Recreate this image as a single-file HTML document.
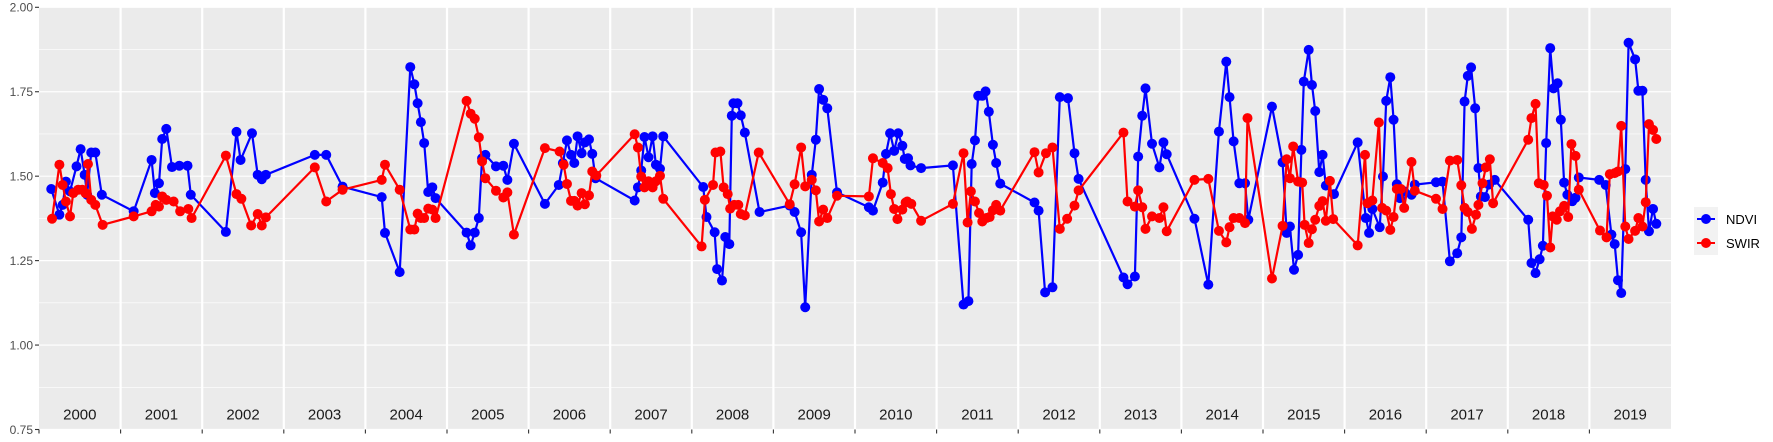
<!DOCTYPE html>
<html><head><meta charset="utf-8"><style>
html,body{margin:0;padding:0;background:#fff;}
svg{display:block;font-family:"Liberation Sans",sans-serif;}
</style></head><body>
<svg id="chart" width="1773" height="442" viewBox="0 0 1773 442" xmlns="http://www.w3.org/2000/svg">
<rect x="39" y="7" width="1632" height="422" fill="#ebebeb"/>
<g id="grid"></g>
<g id="yaxis"></g>
<g id="xaxis"></g>
<g id="series"></g>
<g>
<rect x="1694" y="207" width="24" height="48" fill="#f2f2f2"/>
<g>
<line x1="1697" y1="219" x2="1715" y2="219" stroke="#0000ff" stroke-width="2"/>
<circle cx="1706" cy="219" r="5" fill="#0000ff"/>
<text x="1726" y="224" font-size="13" fill="#000">NDVI</text></g>
<g>
<line x1="1697" y1="243" x2="1715" y2="243" stroke="#ff0000" stroke-width="2"/>
<circle cx="1706" cy="243" r="5" fill="#ff0000"/>
<text x="1726" y="248" font-size="13" fill="#000">SWIR</text></g>
</g>
</svg>
<script>
const yTicks = [0.75, 1.00, 1.25, 1.50, 1.75, 2.00];
const yTickLabels = ["0.75", "1.00", "1.25", "1.50", "1.75", "2.00"];
const years = [2000,2001,2002,2003,2004,2005,2006,2007,2008,2009,2010,2011,2012,2013,2014,2015,2016,2017,2018,2019];
const ndviX = [
2000.15,2000.25,2000.29,2000.33,2000.38,2000.46,2000.51,2000.56,2000.59,2000.64,2000.69,2000.77,
2001.16,2001.38,2001.42,2001.47,2001.51,2001.56,2001.63,2001.72,2001.82,2001.86,
2002.29,2002.42,2002.47,2002.61,2002.68,2002.73,2002.78,
2003.38,2003.52,2003.72,
2004.20,2004.24,2004.42,2004.55,2004.60,2004.64,2004.68,2004.72,2004.77,2004.82,2004.86,
2005.24,2005.29,2005.34,2005.39,2005.43,2005.47,2005.60,2005.69,2005.74,2005.82,
2006.20,2006.37,2006.42,2006.47,2006.52,2006.56,2006.60,2006.65,2006.69,2006.74,2006.78,2006.82,
2007.30,2007.34,2007.38,2007.42,2007.47,2007.52,2007.56,2007.61,2007.65,
2008.14,2008.18,2008.28,2008.31,2008.37,2008.41,2008.46,2008.49,2008.51,2008.56,2008.60,2008.65,2008.83,
2009.20,2009.26,2009.34,2009.39,2009.47,2009.52,2009.56,2009.61,2009.66,2009.78,
2010.17,2010.22,2010.34,2010.38,2010.43,2010.48,2010.53,2010.58,2010.61,2010.65,2010.68,2010.81,
2011.20,2011.33,2011.39,2011.43,2011.47,2011.51,2011.56,2011.60,2011.64,2011.69,2011.73,2011.78,
2012.20,2012.25,2012.33,2012.42,2012.51,2012.61,2012.69,2012.74,
2013.29,2013.34,2013.43,2013.47,2013.52,2013.56,2013.64,2013.73,2013.78,2013.82,
2014.16,2014.33,2014.46,2014.55,2014.59,2014.64,2014.71,2014.78,2014.82,
2015.11,2015.24,2015.29,2015.33,2015.38,2015.43,2015.47,2015.50,2015.56,2015.60,2015.64,2015.69,2015.73,2015.77,2015.87,
2016.16,2016.26,2016.30,2016.34,2016.43,2016.47,2016.51,2016.56,2016.60,2016.64,2016.68,2016.73,2016.82,2016.86,
2017.12,2017.20,2017.29,2017.38,2017.43,2017.47,2017.51,2017.55,2017.60,2017.64,2017.67,2017.72,2017.77,2017.84,
2018.25,2018.29,2018.34,2018.39,2018.43,2018.47,2018.52,2018.56,2018.61,2018.65,2018.69,2018.73,2018.79,2018.83,2018.87,
2019.12,2019.20,2019.27,2019.31,2019.35,2019.39,2019.44,2019.48,2019.56,2019.60,2019.65,2019.69,2019.73,2019.78,2019.82];
const ndviY = [
1.462,1.386,1.415,1.484,1.455,1.529,1.580,1.504,1.445,1.570,1.570,1.445,
1.396,1.548,1.450,1.479,1.610,1.640,1.527,1.531,1.531,1.445,
1.335,1.631,1.548,1.627,1.504,1.491,1.504,
1.563,1.563,1.469,
1.438,1.332,1.216,1.823,1.772,1.716,1.660,1.598,1.453,1.467,1.435,
1.333,1.295,1.333,1.376,1.553,1.563,1.529,1.531,1.489,1.596,
1.418,1.474,1.539,1.606,1.563,1.539,1.618,1.568,1.600,1.609,1.566,1.494,
1.428,1.467,1.517,1.616,1.556,1.618,1.534,1.522,1.618,
1.468,1.379,1.334,1.225,1.191,1.320,1.299,1.679,1.716,1.716,1.680,1.629,1.394,
1.413,1.394,1.334,1.112,1.504,1.608,1.758,1.726,1.701,1.452,
1.408,1.398,1.481,1.566,1.627,1.575,1.627,1.590,1.551,1.553,1.532,1.524,
1.532,1.120,1.130,1.536,1.606,1.738,1.738,1.751,1.691,1.593,1.539,1.478,
1.422,1.398,1.156,1.171,1.734,1.731,1.568,1.492,
1.200,1.180,1.203,1.558,1.679,1.760,1.596,1.526,1.600,1.565,
1.374,1.179,1.632,1.839,1.734,1.603,1.479,1.479,1.371,
1.706,1.541,1.332,1.351,1.223,1.267,1.578,1.780,1.874,1.770,1.693,1.512,1.563,1.472,1.447,
1.600,1.376,1.332,1.403,1.349,1.499,1.723,1.793,1.667,1.476,1.435,1.455,1.445,1.475,
1.482,1.484,1.248,1.272,1.319,1.721,1.797,1.822,1.701,1.524,1.440,1.438,1.475,1.489,
1.371,1.243,1.213,1.254,1.294,1.598,1.879,1.760,1.775,1.667,1.481,1.445,1.426,1.436,1.496,
1.489,1.474,1.327,1.299,1.192,1.154,1.521,1.895,1.846,1.753,1.753,1.489,1.337,1.403,1.359];
const swirX = [
2000.16,2000.25,2000.29,2000.33,2000.38,2000.42,2000.48,2000.53,2000.57,2000.60,2000.64,2000.69,2000.78,
2001.16,2001.38,2001.43,2001.47,2001.51,2001.56,2001.65,2001.73,2001.83,2001.87,
2002.29,2002.42,2002.48,2002.60,2002.68,2002.73,2002.78,
2003.38,2003.52,2003.72,
2004.20,2004.24,2004.42,2004.55,2004.60,2004.64,2004.68,2004.72,2004.77,2004.82,2004.86,
2005.24,2005.29,2005.34,2005.39,2005.43,2005.47,2005.60,2005.69,2005.74,2005.82,
2006.20,2006.38,2006.43,2006.47,2006.52,2006.56,2006.60,2006.65,2006.69,2006.74,2006.78,2006.83,
2007.30,2007.34,2007.38,2007.42,2007.47,2007.52,2007.56,2007.61,2007.65,
2008.12,2008.16,2008.26,2008.29,2008.35,2008.39,2008.44,2008.47,2008.52,2008.57,2008.60,2008.65,2008.82,
2009.20,2009.26,2009.34,2009.39,2009.47,2009.52,2009.56,2009.61,2009.66,2009.78,
2010.17,2010.22,2010.34,2010.40,2010.44,2010.48,2010.52,2010.58,2010.62,2010.64,2010.69,2010.81,
2011.20,2011.33,2011.38,2011.42,2011.47,2011.52,2011.56,2011.61,2011.65,2011.69,2011.73,2011.78,
2012.20,2012.25,2012.34,2012.42,2012.51,2012.60,2012.69,2012.74,
2013.29,2013.34,2013.43,2013.47,2013.52,2013.56,2013.64,2013.73,2013.78,2013.82,
2014.16,2014.33,2014.46,2014.55,2014.59,2014.64,2014.71,2014.78,2014.81,
2015.11,2015.24,2015.29,2015.33,2015.37,2015.43,2015.48,2015.51,2015.56,2015.60,2015.64,2015.69,2015.73,2015.77,2015.82,2015.86,
2016.16,2016.25,2016.28,2016.34,2016.42,2016.46,2016.51,2016.56,2016.60,2016.64,2016.69,2016.73,2016.82,2016.86,
2017.12,2017.20,2017.29,2017.38,2017.43,2017.47,2017.51,2017.56,2017.61,2017.64,2017.69,2017.73,2017.78,2017.82,
2018.25,2018.29,2018.34,2018.38,2018.44,2018.48,2018.52,2018.55,2018.60,2018.64,2018.69,2018.74,2018.78,2018.83,2018.87,
2019.13,2019.21,2019.25,2019.31,2019.35,2019.39,2019.44,2019.48,2019.56,2019.60,2019.65,2019.69,2019.73,2019.78,2019.82];
const swirY = [
1.374,1.534,1.474,1.425,1.381,1.450,1.460,1.460,1.450,1.536,1.430,1.415,1.356,
1.381,1.396,1.415,1.410,1.440,1.430,1.425,1.396,1.403,1.376,
1.561,1.447,1.433,1.354,1.388,1.354,1.378,
1.526,1.425,1.460,
1.489,1.534,1.460,1.342,1.342,1.389,1.376,1.376,1.404,1.401,1.376,
1.723,1.685,1.670,1.615,1.544,1.494,1.457,1.437,1.452,1.327,
1.583,1.573,1.534,1.477,1.427,1.427,1.413,1.450,1.417,1.443,1.514,1.502,
1.624,1.585,1.499,1.467,1.485,1.467,1.485,1.501,1.433,
1.292,1.430,1.474,1.570,1.573,1.467,1.447,1.404,1.415,1.415,1.388,1.384,1.570,
1.417,1.476,1.585,1.470,1.489,1.458,1.366,1.401,1.376,1.442,
1.440,1.553,1.539,1.524,1.447,1.403,1.373,1.401,1.422,1.425,1.418,1.368,
1.418,1.568,1.363,1.455,1.425,1.391,1.366,1.376,1.379,1.399,1.415,1.398,
1.571,1.511,1.568,1.585,1.344,1.374,1.413,1.458,
1.629,1.425,1.410,1.458,1.408,1.344,1.381,1.376,1.408,1.337,
1.489,1.492,1.338,1.304,1.349,1.376,1.376,1.361,1.672,
1.197,1.353,1.550,1.494,1.588,1.484,1.481,1.356,1.302,1.343,1.371,1.412,1.426,1.368,1.486,1.373,
1.295,1.563,1.420,1.428,1.659,1.406,1.398,1.341,1.379,1.462,1.462,1.406,1.542,1.457,
1.433,1.403,1.546,1.548,1.473,1.406,1.394,1.344,1.386,1.415,1.479,1.526,1.550,1.420,
1.608,1.672,1.714,1.479,1.474,1.442,1.289,1.381,1.371,1.396,1.412,1.379,1.595,1.560,1.460,
1.339,1.319,1.506,1.509,1.514,1.649,1.351,1.314,1.338,1.376,1.351,1.423,1.654,1.637,1.610];

const NS = "http://www.w3.org/2000/svg";
const L = 39, R = 1671, T = 7.3, B = 429.5;
const xMin = 2000, xMax = 2020, yMin = 0.75, yMax = 2.0;
function sx(v){ return L + (v - xMin) / (xMax - xMin) * (R - L); }
function sy(v){ return B - (v - yMin) / (yMax - yMin) * (B - T); }
function mk(tag, attrs, parent){
  const e = document.createElementNS(NS, tag);
  for (const k in attrs) e.setAttribute(k, attrs[k]);
  parent.appendChild(e);
  return e;
}
const grid = document.getElementById("grid");
const yaxis = document.getElementById("yaxis");
const xaxis = document.getElementById("xaxis");
const series = document.getElementById("series");
// minor gridlines
for (let i = 0; i < yTicks.length - 1; i++) {
  const m = (yTicks[i] + yTicks[i+1]) / 2;
  const g = mk("line", {x1:L, x2:R, y1:sy(m), y2:sy(m), stroke:"#fff", "stroke-width":0.6}, grid);
  
  
}
yTicks.forEach((t, i) => {
  const g = mk("line", {x1:L, x2:R, y1:sy(t), y2:sy(t), stroke:"#fff", "stroke-width":1.2}, grid);
  
  
  const tk = mk("line", {x1:L-4, x2:L, y1:sy(t), y2:sy(t), stroke:"#333", "stroke-width":1.1}, yaxis);
  
  
  const tx = mk("text", {x:L-6, y:sy(t)+4.3, "text-anchor":"end", "font-size":12, fill:"#4d4d4d"}, yaxis);
  
  
  tx.textContent = yTickLabels[i];
});
years.forEach((yr, i) => {
  if (i > 0) {
    const v = mk("line", {x1:sx(yr), x2:sx(yr), y1:T, y2:B, stroke:"#fff", "stroke-width":2.2}, grid);
    
    
  }
  const tk = mk("line", {x1:sx(yr), x2:sx(yr), y1:B, y2:B+4, stroke:"#333", "stroke-width":1.1}, xaxis);
  
  
  const lb = mk("text", {x:sx(yr + 0.5), y:419.5, "text-anchor":"middle", "font-size":15, fill:"#1a1a1a"}, xaxis);
  
  
  lb.textContent = String(yr);
});
function drawSeries(xs, ys, color, name){
  const g = mk("g", {}, series);
  
  
  const pts = xs.map((x, i) => sx(x).toFixed(1) + "," + sy(ys[i]).toFixed(1)).join(" ");
  const pl = mk("polyline", {points:pts, fill:"none", stroke:color, "stroke-width":2.2, "stroke-linejoin":"round"}, g);
  
  
  xs.forEach((x, i) => {
    const c = mk("circle", {cx:sx(x), cy:sy(ys[i]), r:5, fill:color}, g);
    
    
  });
}
drawSeries(ndviX, ndviY, "#0000ff", "ndvi");
drawSeries(swirX, swirY, "#ff0000", "swir");
</script>
</body></html>
